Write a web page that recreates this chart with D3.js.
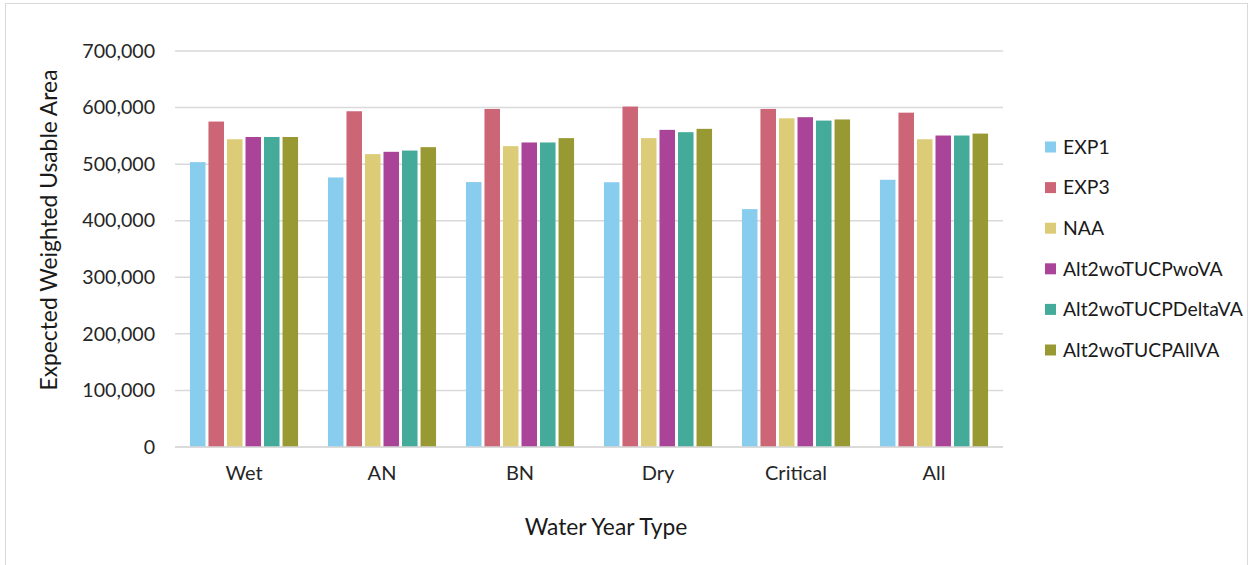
<!DOCTYPE html>
<html><head><meta charset="utf-8">
<script src="https://cdn.jsdelivr.net/npm/d3@7"></script>
<style>body{margin:0;background:#fff;}svg{display:block;font-family:Lato,"Open Sans",sans-serif;}</style>
</head><body><svg id="c" width="1249" height="565"></svg>
<script>
const categories = ["Wet","AN","BN","Dry","Critical","All"];
const seriesNames = ["EXP1","EXP3","NAA","Alt2woTUCPwoVA","Alt2woTUCPDeltaVA","Alt2woTUCPAllVA"];
const EXP1 = [503600,476500,468300,468000,420500,472400];
const EXP3 = [575300,593500,597600,601800,597600,591000];
const NAA = [544000,517700,531800,546000,581000,544000];
const Alt2woTUCPwoVA = [548000,521800,538300,560600,583000,550600];
const Alt2woTUCPDeltaVA = [548000,524000,538300,556500,577000,550600];
const Alt2woTUCPAllVA = [548000,530000,546000,562400,579000,554000];
const yTicks = [0,100000,200000,300000,400000,500000,600000,700000];
const colors = ["#88CCEE","#CC6677","#DDCC77","#AA4499","#44AA99","#999933"];
const seriesValues = [EXP1,EXP3,NAA,Alt2woTUCPwoVA,Alt2woTUCPDeltaVA,Alt2woTUCPAllVA];

(function(){
const svg = d3.select("#c");
svg.append("rect").attr("x",5.5).attr("y",3.5).attr("width",1242).attr("height",570)
  .attr("fill","none").attr("stroke","#d9d9d9").attr("stroke-width",1);

const pl=175, pr=1003, pt=51, pb=447;
const x0 = d3.scaleBand().domain(categories).range([pl,pr]).paddingInner(0.195).paddingOuter(0.0975);
const x1 = d3.scaleBand().domain(seriesNames).range([0,x0.bandwidth()]).padding(0);
const y = d3.scaleLinear().domain([0,700000]).range([pb,pt]);

svg.append("g").selectAll("line").data(yTicks).join("line")
  .attr("x1",pl).attr("x2",pr).attr("y1",d=>y(d)).attr("y2",d=>y(d))
  .attr("stroke","#d9d9d9").attr("stroke-width",1.5);

const yAxis = d3.axisLeft(y).tickValues(yTicks).tickFormat(d3.format(",")).tickSize(0).tickPadding(20);
const ya = svg.append("g").attr("transform",`translate(${pl},0)`).call(yAxis);
ya.select(".domain").remove();
ya.selectAll("text").attr("font-size",19.6).attr("fill","#262626").attr("font-family","Lato");

const groups = svg.append("g").selectAll("g").data(categories).join("g")
  .attr("transform",d=>`translate(${x0(d)},0)`);
groups.selectAll("rect").data((c,i)=>seriesNames.map((s,j)=>({s,j,v:seriesValues[j][i]}))).join("rect")
  .attr("x",d=>x1(d.s)+1.5).attr("width",x1.bandwidth()-3)
  .attr("y",d=>y(d.v)).attr("height",d=>y(0)-y(d.v))
  .attr("fill",d=>colors[d.j]);

svg.append("line").attr("x1",pl).attr("x2",pr).attr("y1",y(0)).attr("y2",y(0))
  .attr("stroke","#d9d9d9").attr("stroke-width",1.5);

const xAxis = d3.axisBottom(x0).tickSize(0).tickPadding(19);
const xa = svg.append("g").attr("transform",`translate(0,${pb})`).call(xAxis);
xa.select(".domain").remove();
xa.selectAll("text").attr("font-size",20).attr("fill","#262626").attr("font-family","Lato");

svg.append("text").attr("x",606).attr("y",535).attr("text-anchor","middle")
  .attr("font-size",22.8).attr("fill","#1a1a1a").text("Water Year Type");
svg.append("text").attr("transform","translate(57,230) rotate(-90)").attr("text-anchor","middle")
  .attr("font-size",22.8).attr("fill","#1a1a1a").text("Expected Weighted Usable Area");

const lg = svg.append("g").selectAll("g").data(seriesNames).join("g")
  .attr("transform",(d,i)=>`translate(1045,${147+i*40.6})`);
lg.append("rect").attr("x",0).attr("y",-5.5).attr("width",11).attr("height",11).attr("fill",(d,i)=>colors[i]);
lg.append("text").attr("x",18).attr("y",0).attr("dy","0.35em").attr("font-size",19.4).attr("fill","#1a1a1a").text(d=>d);
})();
</script></body></html>
